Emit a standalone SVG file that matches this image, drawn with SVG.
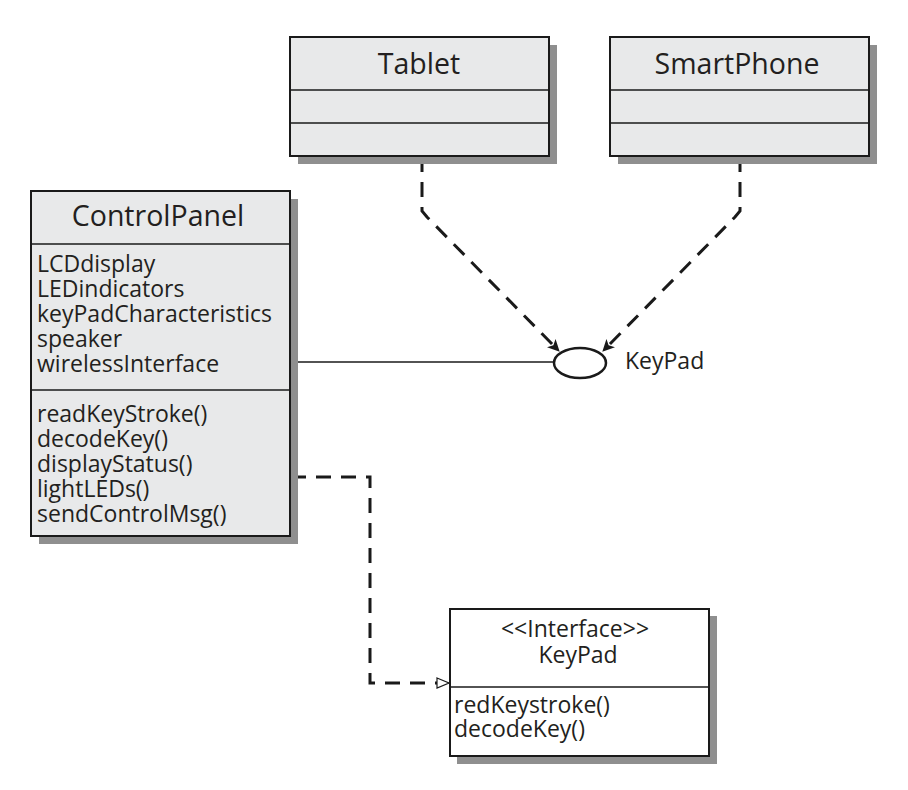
<svg xmlns="http://www.w3.org/2000/svg" width="908" height="790" viewBox="0 0 908 790">
<style>
.shadow{fill:#8f8f8f}
.box{fill:#e8e9ea;stroke:#1a1a1a;stroke-width:2}
.ibox{fill:#ffffff;stroke:#1a1a1a;stroke-width:2}
.div{stroke:#1a1a1a;stroke-width:1.5}
.t{font-family:"Open Sans","Liberation Sans",sans-serif;fill:#231f20}
.title{font-size:28.5px}
.item{font-size:23px}
.dash{fill:none;stroke:#1a1a1a;stroke-width:3;stroke-dasharray:15 10}
</style>
<defs>
<marker id="fill" viewBox="0 0 12 12" refX="11" refY="6" markerWidth="12" markerHeight="12" markerUnits="userSpaceOnUse" orient="auto">
<path d="M0,0 L12,6 L0,12 L3,6 Z" fill="#1a1a1a"/>
</marker>
<marker id="hollow" viewBox="0 0 14 12" refX="13" refY="6" markerWidth="14" markerHeight="12" markerUnits="userSpaceOnUse" orient="auto">
<path d="M1,1 L13,6 L1,11 Z" fill="#fff" stroke="#1a1a1a" stroke-width="1.2"/>
</marker>
</defs>
<g id="connectors">
<line x1="290" y1="362" x2="554" y2="362" stroke="#1a1a1a" stroke-width="1.5"/>
<path class="dash" d="M422,157 L422,211 L427,217 L559,351" marker-end="url(#fill)"/>
<path class="dash" d="M740,157 L740,211 L735,217 L603,351" marker-end="url(#fill)"/>
<path class="dash" d="M291,477 L370,477 L370,683 L437,683" />
<line x1="437" y1="683" x2="449" y2="683" stroke="#1a1a1a" stroke-width="1" marker-end="url(#hollow)"/>
</g>
<g id="Tablet">
<rect class="shadow" x="298" y="45" width="259" height="119"/>
<rect class="box" x="290" y="37" width="259" height="119"/>
<line class="div" x1="290" y1="90" x2="549" y2="90"/>
<line class="div" x1="290" y1="123" x2="549" y2="123"/>
<text class="t title" x="419" y="74" text-anchor="middle">Tablet</text>
</g>
<g id="SmartPhone">
<rect class="shadow" x="618" y="45" width="259" height="119"/>
<rect class="box" x="610" y="37" width="259" height="119"/>
<line class="div" x1="610" y1="90" x2="869" y2="90"/>
<line class="div" x1="610" y1="123" x2="869" y2="123"/>
<text class="t title" x="737" y="74" text-anchor="middle">SmartPhone</text>
</g>
<g id="ControlPanel">
<rect class="shadow" x="39" y="199" width="259" height="345"/>
<rect class="box" x="31" y="191" width="259" height="345"/>
<line class="div" x1="31" y1="244" x2="290" y2="244"/>
<line class="div" x1="31" y1="390" x2="290" y2="390"/>
<text class="t title" x="158" y="226" text-anchor="middle">ControlPanel</text>
<text class="t item" x="37" y="272">LCDdisplay</text>
<text class="t item" x="37" y="297">LEDindicators</text>
<text class="t item" x="37" y="322">keyPadCharacteristics</text>
<text class="t item" x="37" y="347">speaker</text>
<text class="t item" x="37" y="372">wirelessInterface</text>
<text class="t item" x="37" y="422">readKeyStroke()</text>
<text class="t item" x="37" y="447">decodeKey()</text>
<text class="t item" x="37" y="472">displayStatus()</text>
<text class="t item" x="37" y="497">lightLEDs()</text>
<text class="t item" x="37" y="522">sendControlMsg()</text>
</g>
<g id="KeyPadLollipop">
<ellipse cx="580" cy="363" rx="26" ry="15" fill="#fff" stroke="#1a1a1a" stroke-width="2.5"/>
<text class="t item" x="625" y="369">KeyPad</text>
</g>
<g id="KeyPadInterface">
<rect class="shadow" x="457" y="616" width="260" height="148"/>
<rect class="ibox" x="450" y="609" width="259" height="147"/>
<line class="div" x1="450" y1="687" x2="709" y2="687"/>
<text class="t item" x="575" y="637" text-anchor="middle">&lt;&lt;Interface&gt;&gt;</text>
<text class="t item" x="578" y="663" text-anchor="middle">KeyPad</text>
<text class="t item" x="454" y="713">redKeystroke()</text>
<text class="t item" x="454" y="737">decodeKey()</text>
</g>
</svg>
